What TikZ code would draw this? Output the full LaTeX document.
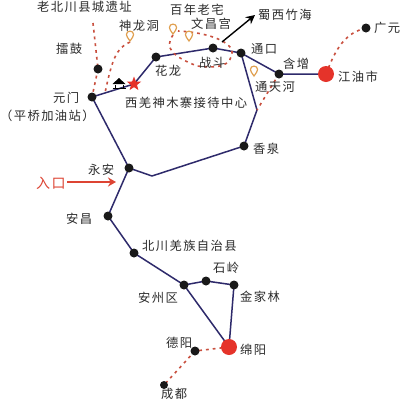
\documentclass[tikz,border=0pt]{standalone}
\usepackage{fontspec}
\setmainfont{Noto Sans CJK SC}
\def\lspgo#1#2{#1\ifx\relax#2\else\kern1.4pt\expandafter\lspgo\expandafter#2\fi}
\def\lsp#1{\lspgo#1\relax}
\usetikzlibrary{arrows.meta,shapes.geometric}
\definecolor{route}{HTML}{2E2A6B}
\definecolor{dashred}{HTML}{C9503F}
\definecolor{pinor}{HTML}{E0A050}
\definecolor{mapred}{HTML}{E5332A}
\definecolor{entry}{HTML}{DD4433}
\definecolor{ink}{HTML}{2B2B2B}
\tikzset{
  stop/.style={circle,fill=black!90,inner sep=0pt,minimum size=9pt},
  city/.style={circle,fill=mapred,inner sep=0pt,minimum size=16pt},
  routeline/.style={draw=route,line width=1.5pt,line join=round},
  scenic/.style={draw=dashred,line width=1.6pt,dash pattern=on 2.8pt off 4pt},
  lab/.style={text=ink,font=\fontsize{12.3}{14}\selectfont,inner sep=0pt},
  pin/.pic={\draw[pinor,line width=1.2pt,fill=white] (0,5) .. controls (-2,2) and (-3.6,0.5) .. (-3.6,-1.5) .. controls (-3.6,-6) and (3.6,-6) .. (3.6,-1.5) .. controls (3.6,0.5) and (2,2) .. (0,5) -- cycle;}
}
\begin{document}
\begin{tikzpicture}[x=1pt,y=-1pt]
\useasboundingbox (0,0) rectangle (400,400);
\fill[white] (0,0) rectangle (400,400);
% route junctions
\coordinate (bendA) at (152,176);
\coordinate (bendB) at (257,110);
\coordinate (arrowS) at (222,42);
\coordinate (arrowE) at (255,15);
\coordinate (entryS) at (67,182);
\coordinate (entryE) at (116,182);
\coordinate (oldtown) at (93,23);
\coordinate (star) at (134,84);
% routes
\path[routeline] (92,97) coordinate (yuanmenC) -- (star) -- (156,57) coordinate (hualongC) -- (213,48) coordinate (zhandouC) -- (241,53) coordinate (tongkouC) -- (279,74) coordinate (hanzengC) -- (326,74) coordinate (jiangyouC);
\path[routeline] (tongkouC) -- (bendB) -- (244,146) coordinate (xiangquanC) -- (bendA) -- (129,168) coordinate (yonganC);
\path[routeline] (yuanmenC) -- (yonganC) -- (108,216) coordinate (anchangC) -- (134,253) coordinate (beichuanC) -- (184,285) coordinate (anzhouC) -- (206,281) coordinate (shilingC) -- (234,285) coordinate (jinjiaC) -- (229,347) coordinate (mianyangC) -- (anzhouC);
% scenic dashed branches
\path[scenic] (oldtown) -- (98,69);
\path[scenic] (98,69) -- (yuanmenC);
\path[scenic] (130,42) .. controls (116,48) and (112,60) .. (105,93);
\path[scenic] (173,35) .. controls (164,48) and (172,56) .. (197,66) .. controls (215,68) and (233,68) .. (232,50) .. controls (226,38) and (200,32) .. (178,31);
\path[scenic] (hanzengC) -- (bendB);
\path[scenic] (jiangyouC) .. controls (336,48) and (345,33) .. (366,28);
\path[scenic] (mianyangC) -- (195,351);
\path[scenic] (195,351) -- (164,385);
% stops
\node[stop] (yuanmen) at (yuanmenC) {};
\node[stop] (leigu) at (98,69) {};
\node[stop] (hualong) at (hualongC) {};
\node[stop] (zhandou) at (zhandouC) {};
\node[stop] (tongkou) at (tongkouC) {};
\node[stop] (hanzeng) at (hanzengC) {};
\node[city] (jiangyou) at (jiangyouC) {};
\node[stop] (guangyuan) at (366,28) {};
\node[stop] (xiangquan) at (xiangquanC) {};
\node[stop] (yongan) at (yonganC) {};
\node[stop] (anchang) at (anchangC) {};
\node[stop] (beichuan) at (beichuanC) {};
\node[stop] (anzhou) at (anzhouC) {};
\node[stop] (shiling) at (shilingC) {};
\node[stop] (jinjia) at (jinjiaC) {};
\node[city] (mianyang) at (mianyangC) {};
\node[stop] (deyang) at (195,351) {};
\node[stop,minimum size=8pt] (chengdu) at (164,385) {};
% pins
\pic at (130,36) {pin};
\pic at (173,29) {pin};
\pic at (189,36) {pin};
\pic at (254,71) {pin};
% star and pavilion
\node[star,star points=5,star point ratio=2.4,fill=mapred,inner sep=0pt,minimum size=15pt] (redstar) at (star) {};
\draw[black,line width=1pt] (112.5,88.5) -- (125.5,88.5) (115,88) -- (115,85) (123,88) -- (123,85);
\fill[black] (119,78) -- (125.5,84) -- (112.5,84) -- cycle;
% arrows
\draw[-{Stealth[length=9pt,width=9pt]},black,line width=1.4pt] (arrowS) -- (arrowE);
\draw[-{Stealth[length=8pt,width=9pt]},entry,line width=1.8pt] (entryS) -- (entryE);
% labels
\node[lab,anchor=west] (t1) at (37,7) {\lsp{老北川县城遗址}};
\node[lab,anchor=west] (t2) at (119,26) {\lsp{神龙洞}};
\node[lab,anchor=west] (t3) at (170,10) {\lsp{百年老宅}};
\node[lab,anchor=west] (t4) at (191,24) {\lsp{文昌宫}};
\node[lab,anchor=west] (t5) at (258,15) {\lsp{蜀西竹海}};
\node[lab,anchor=west] (t6) at (374,28) {\lsp{广元}};
\node[lab,anchor=west] (t7) at (56,49) {\lsp{擂鼓}};
\node[lab,anchor=west] (t8) at (155,71) {\lsp{花龙}};
\node[lab,anchor=west] (t9) at (199,63) {\lsp{战斗}};
\node[lab,anchor=west] (t10) at (251,49) {\lsp{通口}};
\node[lab,anchor=west] (t11) at (283,64) {\lsp{含增}};
\node[lab,anchor=west] (t12) at (338,77) {\lsp{江油市}};
\node[lab,anchor=west] (t13) at (255,87) {\lsp{通天河}};
\node[lab,anchor=west] (t14) at (53,98) {\lsp{元门}};
\node[lab,anchor=west] (t15) at (0,116) {\lsp{（平桥加油站）}};
\node[lab,anchor=west] (t16) at (125,103) {\lsp{西羌神木寨接待中心}};
\node[lab,anchor=west] (t17) at (253,149) {\lsp{香泉}};
\node[lab,anchor=west] (t18) at (88,170) {\lsp{永安}};
\node[lab,anchor=west,text=entry,font=\fontsize{14}{16}\selectfont] (t19) at (36,183) {\lsp{入口}};
\node[lab,anchor=west] (t20) at (66,219) {\lsp{安昌}};
\node[lab,anchor=west] (t21) at (142,246) {\lsp{北川羌族自治县}};
\node[lab,anchor=west] (t22) at (213,268) {\lsp{石岭}};
\node[lab,anchor=west] (t23) at (138,298) {\lsp{安州区}};
\node[lab,anchor=west] (t24) at (240,297) {\lsp{金家林}};
\node[lab,anchor=west] (t25) at (166,343) {\lsp{德阳}};
\node[lab,anchor=west] (t26) at (240,350) {\lsp{绵阳}};
\node[lab,anchor=west] (t27) at (161,394) {\lsp{成都}};
\end{tikzpicture}
\end{document}
